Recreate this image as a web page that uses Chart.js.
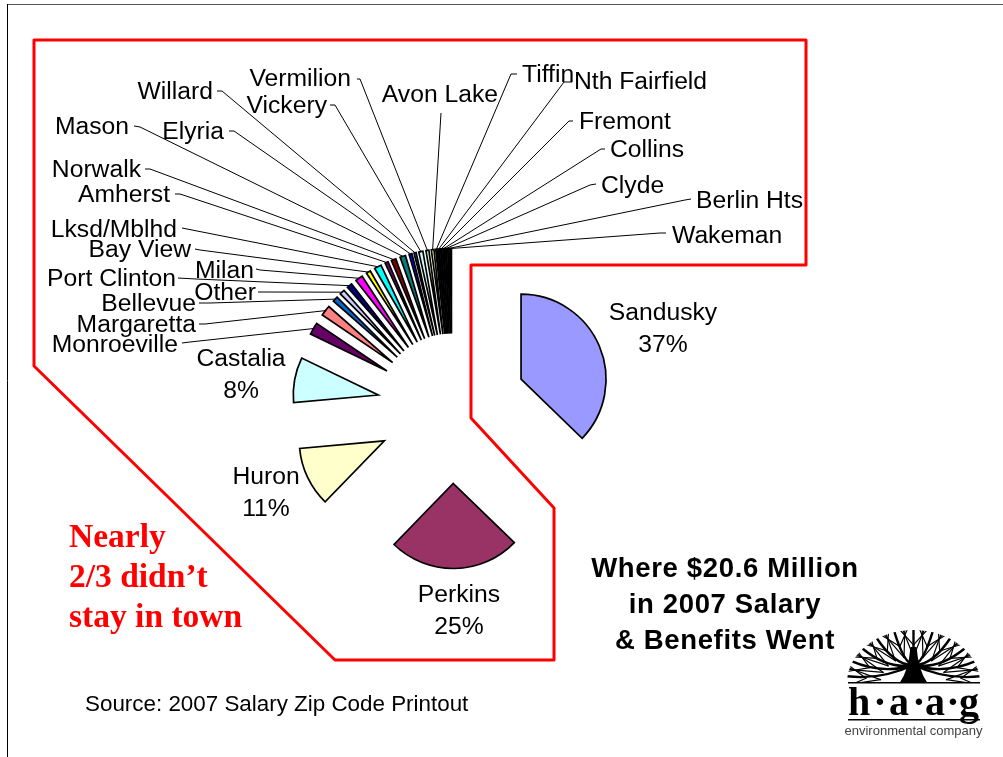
<!DOCTYPE html>
<html><head><meta charset="utf-8">
<style>html,body{margin:0;padding:0;background:#fff;overflow:hidden}canvas{display:block}</style>
<script src="https://cdn.jsdelivr.net/npm/chart.js@4"></script>
</head><body><canvas id="c" width="1003" height="757"></canvas>
<script>
const categories = ["Sandusky","Perkins","Huron","Castalia","Monroeville","Margaretta","Bellevue","Other","Port Clinton","Milan","Bay View","Lksd/Mblhd","Amherst","Norwalk","Mason","Elyria","Willard","Vickery","Vermilion","Avon Lake","Tiffin","Nth Fairfield","Fremont","Collins","Clyde","Berlin Hts","Wakeman"];
const shares = [37.2,25.0,11.3,8.6,2.3,2.0,1.0,0.95,1.0,1.4,0.83,1.33,0.61,0.89,1.05,0.55,0.39,0.78,0.55,0.5,0.24,0.24,0.24,0.24,0.24,0.24,0.24];
const sliceColors = ["#9999FF","#993366","#FFFFCC","#CCFFFF","#660066","#FF8080","#0066CC","#CCCCFF","#000080","#FF00FF","#FFFF00","#00FFFF","#800080","#800000","#008080","#0000FF","#00CCFF","#CCFFFF","#CCFFCC","#FFFF99","#99CCFF","#FF99CC","#CC99FF","#FFCC99","#3366FF","#33CCCC","#99CC00"];
const percentText = {Sandusky:"37%",Perkins:"25%",Huron:"11%",Castalia:"8%"};

// label placement: name -> [text x, text y, align, stub x, stub y, elbow x, elbow y]
const labelPlace = {
 Sandusky:[663,313,"center"],Perkins:[459,595,"center"],Huron:[266,477,"center"],Castalia:[241,359,"center"],
 Monroeville:[178,345,"right",182,343,190,342],Margaretta:[196,325,"right",199,324,205,324],
 Bellevue:[196,304,"right",199,303,210,303],Other:[256,293,"right",258,292,264,292],
 "Port Clinton":[176,279,"right",178,278,196,279],Milan:[254,271,"right",256,269,260,270],
 "Bay View":[191,250,"right",195,249,200,250],"Lksd/Mblhd":[177,230,"right",182,228,187,229],
 Amherst:[170,195,"right",175,194,180,194],Norwalk:[141,170,"right",145,169,150,169],
 Mason:[129,127,"right",134,126,140,127],Elyria:[224,132,"right",229,131,234,131],
 Willard:[213,92,"right",217,91,222,91],Vickery:[327,106,"right",330,105,335,105],
 Vermilion:[351,79,"right",357,79,360,79],"Avon Lake":[498,95,"right",441,113,441,113],
 Tiffin:[522,75,"left",517,74,511,74],"Nth Fairfield":[574,82,"left",572,82,564,82],
 Fremont:[579,122,"left",573,121,569,121],Collins:[610,150,"left",605,149,601,149],
 Clyde:[601,186,"left",596,184,590,185],"Berlin Hts":[696,201,"left",691,199,685,200],
 Wakeman:[672,236,"left",666,233,660,233]
};
const explode = 75;
const redOutline = [[34,40],[806,40],[806,265],[471,265],[471,418],[554,508],[554,660],[335,660],[34,366]];
const redLines = [["Nearly",538],["2/3 didn\u2019t",578],["stay in town",618]];
const titleLines = [["Where $20.6 Million",569],["in 2007 Salary",605],["& Benefits Went",641]];
const sourceText = "Source: 2007 Salary Zip Code Printout";
const logoLetters = [["h",859],["\u00b7",880],["a",899],["\u00b7",919],["a",935],["\u00b7",953],["g",969]];
const logoTag = "environmental company";

// Exploded slices: keep each slice's radius and slide it out along its mid-angle.
const baseArcDraw = Chart.ArcElement.prototype.draw;
Chart.ArcElement.prototype.draw = function(ctx){
  const mid=(this.startAngle+this.endAngle)/2;
  ctx.save();
  ctx.translate(Math.cos(mid)*explode,Math.sin(mid)*explode);
  baseArcDraw.call(this,ctx);
  ctx.restore();
};

function drawLogo(g){
  const cx=913.5, by=683, rx=66.5, ry=53;
  g.save();
  g.beginPath(); g.ellipse(cx,by,rx,ry,0,Math.PI,2*Math.PI); g.closePath(); g.clip();
  g.strokeStyle="#000"; g.lineCap="round";
  const n=11;
  for(let i=0;i<n;i++){
    const a=Math.PI*(0.04+0.92*i/(n-1));
    const ex=cx+Math.cos(a)*rx*1.02, ey=by-Math.sin(a)*ry*1.02;
    const mx=cx+Math.cos(a)*rx*0.5, my=by-Math.sin(a)*ry*0.38;
    g.lineWidth=2.4;
    g.beginPath(); g.moveTo(cx,by-18); g.quadraticCurveTo(mx,my,ex,ey); g.stroke();
    for(const s of [-1,1]){
      const a2=a+s*0.16;
      g.lineWidth=1.2;
      g.beginPath(); g.moveTo(cx+Math.cos(a)*rx*0.5,by-Math.sin(a)*ry*0.5);
      g.lineTo(cx+Math.cos(a2)*rx*1.02,by-Math.sin(a2)*ry*1.02); g.stroke();
      g.beginPath(); g.moveTo(cx+Math.cos(a)*rx*0.72,by-Math.sin(a)*ry*0.72);
      g.lineTo(cx+Math.cos(a-s*0.2)*rx*1.02,by-Math.sin(a-s*0.2)*ry*1.02); g.stroke();
    }
  }
  g.fillStyle="#000";
  g.beginPath(); g.moveTo(cx-14,by); g.quadraticCurveTo(cx-5,by-12,cx-3,by-36); g.lineTo(cx+3,by-36);
  g.quadraticCurveTo(cx+5,by-12,cx+14,by); g.closePath(); g.fill();
  g.restore();
  g.fillStyle="#000"; g.fillRect(848,682,132,1.5); g.fillRect(848,719,132,1.5);
  g.font='bold 40px "Liberation Serif"'; g.textAlign="center"; g.textBaseline="alphabetic";
  for(const [t,x] of logoLetters) g.fillText(t,x,715);
  g.font='13px "Liberation Sans"'; g.fillStyle="#444";
  g.fillText(logoTag,913.5,735);
}

const overlay = {
  id:"overlay",
  beforeDatasetsDraw(chart){
    const g=chart.ctx; g.save();
    g.strokeStyle="#555"; g.lineWidth=1; g.beginPath(); g.moveTo(7,4.5); g.lineTo(1003,4.5); g.stroke();
    g.strokeStyle="#000"; g.beginPath(); g.moveTo(7.5,4); g.lineTo(7.5,757); g.stroke();
    g.strokeStyle="#f00"; g.lineWidth=3; g.lineJoin="round"; g.beginPath();
    redOutline.forEach((p,i)=>i?g.lineTo(p[0],p[1]):g.moveTo(p[0],p[1])); g.closePath(); g.stroke();
    g.restore();
  },
  afterDatasetsDraw(chart){
    const g=chart.ctx, arcs=chart.getDatasetMeta(0).data;
    g.save();
    g.strokeStyle="#000"; g.lineWidth=1; g.fillStyle="#000";
    g.textBaseline="middle"; g.font='24.7px "Liberation Sans"';
    categories.forEach((name,i)=>{
      const P=labelPlace[name], a=arcs[i];
      g.textAlign=P[2]; g.fillStyle="#000";
      g.fillText(name,P[0],P[1]);
      if(percentText[name]) g.fillText(percentText[name],P[0],P[1]+32);
      if(P.length>3){
        const mid=(a.startAngle+a.endAngle)/2, R=a.outerRadius+explode;
        g.beginPath(); g.moveTo(P[3],P[4]); g.lineTo(P[5],P[6]);
        g.lineTo(a.x+Math.cos(mid)*R,a.y+Math.sin(mid)*R); g.stroke();
      }
    });
    g.textAlign="left"; g.fillStyle="#f00"; g.font='bold 33.5px "Liberation Serif"';
    redLines.forEach(([t,y])=>g.fillText(t,69,y));
    g.textAlign="center"; g.fillStyle="#000"; g.font='bold 27.5px "Liberation Sans"';
    g.letterSpacing="0.65px";
    titleLines.forEach(([t,y])=>g.fillText(t,725,y));
    g.letterSpacing="0px";
    g.textAlign="left"; g.font='22.4px "Liberation Sans"';
    g.fillText(sourceText,85,705);
    drawLogo(g);
    g.restore();
  }
};

new Chart(document.getElementById("c"),{
  type:"pie",
  data:{labels:categories,datasets:[{data:shares,backgroundColor:sliceColors,borderColor:"#000",borderWidth:1.7,borderAlign:"center",borderJoinStyle:"miter",radius:85}]},
  options:{responsive:false,animation:false,rotation:0,
    layout:{padding:{left:0,right:99,top:60,bottom:0}},
    plugins:{legend:{display:false},tooltip:{enabled:false},title:{display:false}},
    events:[]},
  plugins:[overlay]
});
</script></body></html>
